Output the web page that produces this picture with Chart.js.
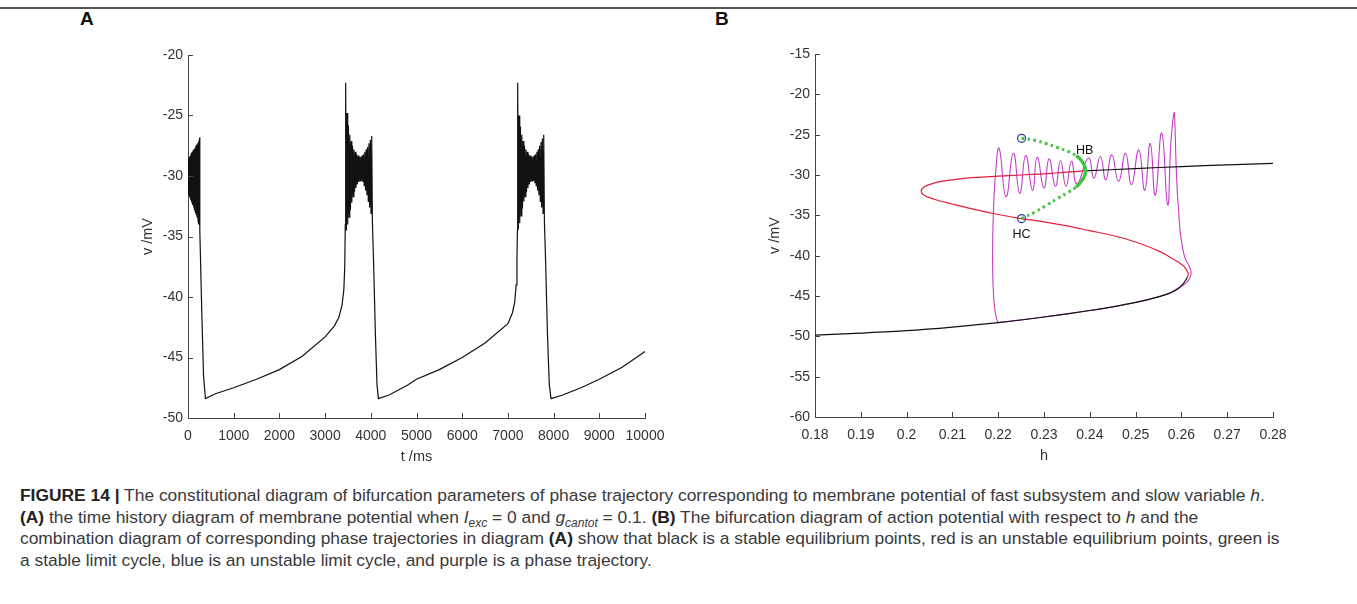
<!DOCTYPE html>
<html>
<head>
<meta charset="utf-8">
<script src="https://cdn.jsdelivr.net/npm/chart.js@4.4.1/dist/chart.umd.min.js"></script>
<style>
  body { margin: 0; background: #fff; width: 1357px; height: 604px; overflow: hidden; position: relative; font-family: "Liberation Sans", Arial, sans-serif; }
  #topLine { position: absolute; left: 0; top: 7px; width: 1357px; height: 2px; background: #555; }
  .panel { position: absolute; font-weight: bold; font-size: 19px; color: #111; }
  canvas { position: absolute; top: 0; }
  #caption { position: absolute; left: 20px; top: 485px; font-family: "Liberation Sans", Arial, sans-serif; font-size: 17.4px; line-height: 21.6px; color: #3a3a3a; white-space: nowrap; }
  #caption b { color: #222; }
  #caption sub { font-size: 12px; line-height: 0; }
</style>
</head>
<body>
<div id="topLine"></div>
<div class="panel" style="left:80px;top:8px">A</div>
<div class="panel" style="left:715px;top:8px">B</div>
<canvas id="chartA" width="680" height="470" style="left:0"></canvas>
<canvas id="chartB" width="677" height="470" style="left:680px"></canvas>
<div id="caption">
<b>FIGURE 14 |</b> The constitutional diagram of bifurcation parameters of phase trajectory corresponding to membrane potential of fast subsystem and slow variable <i>h</i>.<br>
<b>(A)</b> the time history diagram of membrane potential when <i>I<sub>exc</sub></i> = 0 and <i>g<sub>cantot</sub></i> = 0.1. <b>(B)</b> The bifurcation diagram of action potential with respect to <i>h</i> and the<br>
combination diagram of corresponding phase trajectories in diagram <b>(A)</b> show that black is a stable equilibrium points, red is an unstable equilibrium points, green is<br>
a stable limit cycle, blue is an unstable limit cycle, and purple is a phase trajectory.
</div>
<script>
// ---- panel A : membrane potential v (mV) against time t (ms) ----
const tA = [
  // first burst
  0, 10, 20, 30, 40, 50, 60, 70, 80, 90, 100, 110, 120, 130, 140, 150, 160, 170, 180, 190, 200, 210, 220, 230, 240, 250, 255, 262,
  300, 340, 381,
  // slow rise
  600, 1000, 1500, 2000, 2500, 3000, 3200, 3300, 3370, 3410, 3430, 3442,
  // second burst
  3450, 3465, 3480, 3495, 3510, 3525, 3540, 3555, 3570, 3585, 3600, 3615, 3630, 3645, 3660, 3675, 3690, 3705, 3720, 3735,
  3750, 3765, 3780, 3795, 3810, 3825, 3840, 3855, 3870, 3885, 3900, 3915, 3930, 3945, 3960, 3975, 3990, 4005, 4020, 4035,
  4060, 4100, 4135, 4166,
  // slow rise
  4400, 4800, 5000, 5500, 6000, 6500, 7000, 7100, 7150, 7180, 7198, 7208,
  // third burst
  7214, 7229, 7244, 7259, 7274, 7289, 7304, 7319, 7334, 7349, 7364, 7379, 7394, 7409, 7424, 7439, 7454, 7469, 7484, 7499,
  7514, 7529, 7544, 7559, 7574, 7589, 7604, 7619, 7634, 7649, 7664, 7679, 7694, 7709, 7724, 7739, 7754, 7769, 7784, 7799,
  7825, 7865, 7905, 7943,
  // slow rise
  8200, 8600, 9000, 9500, 10000
];
const vA = [
  -30.0, -28.5, -31.6, -28.4, -31.8, -28.3, -32.0, -28.1, -32.2, -28.0, -32.4, -27.9, -32.6, -27.8, -32.8, -27.7, -33.0, -27.5, -33.2, -27.4, -33.4, -27.3, -33.7, -27.1, -34.0, -26.9, -26.8, -34.5,
  -41.0, -46.5, -48.4,
  -48.0, -47.5, -46.8, -46.0, -44.9, -43.3, -42.4, -41.7, -40.7, -39.4, -37.5, -34.0,
  -22.3, -34.5, -24.8, -34.0, -25.8, -33.4, -26.6, -32.8, -27.1, -32.2, -27.5, -31.7, -27.8, -31.3, -28.0, -31.0, -28.2, -30.7, -28.3, -30.5,
  -28.4, -30.4, -28.4, -30.4, -28.3, -30.5, -28.2, -30.8, -28.0, -31.2, -27.8, -31.6, -27.6, -32.1, -27.3, -32.6, -27.0, -33.1, -26.7, -33.8,
  -37.0, -43.0, -47.2, -48.4,
  -48.1, -47.3, -46.8, -46.0, -45.0, -43.8, -42.2, -41.3, -40.4, -39.0, -37.0, -34.5,
  -22.3, -34.4, -25.0, -33.9, -25.9, -33.3, -26.6, -32.7, -27.1, -32.1, -27.5, -31.7, -27.8, -31.3, -28.0, -31.0, -28.2, -30.7, -28.3, -30.5,
  -28.4, -30.4, -28.4, -30.4, -28.3, -30.6, -28.2, -30.8, -28.0, -31.2, -27.8, -31.6, -27.5, -32.1, -27.2, -32.6, -26.9, -33.1, -26.6, -33.8,
  -37.0, -43.0, -47.2, -48.4,
  -48.1, -47.5, -46.8, -45.8, -44.5
];
const tTicks = [0, 1000, 2000, 3000, 4000, 5000, 6000, 7000, 8000, 9000, 10000];
const vTicksA = [-50, -45, -40, -35, -30, -25, -20];

// ---- panel B : bifurcation diagram, v (mV) against h ----
// stable equilibria, lower branch (black)
const hLow = [0.18, 0.19, 0.20, 0.21, 0.22, 0.23, 0.24, 0.245, 0.25, 0.255, 0.2572, 0.2593, 0.2605, 0.2613];
const vLow = [-49.85, -49.6, -49.3, -48.85, -48.3, -47.6, -46.8, -46.35, -45.8, -45.1, -44.7, -44.1, -43.4, -42.7];
// stable equilibria, upper branch from HB (black)
const hUp = [0.2387, 0.25, 0.26, 0.27, 0.28];
const vUp = [-29.5, -29.2, -28.95, -28.75, -28.55];
// unstable equilibria (red)
const hRed = [0.2613, 0.2615, 0.2605, 0.2593, 0.257, 0.255, 0.25, 0.245, 0.24, 0.235, 0.23, 0.225, 0.22, 0.215, 0.21, 0.206, 0.2038, 0.2032,
  0.2038, 0.206, 0.21, 0.215, 0.22, 0.225, 0.23, 0.235, 0.2387];
const vRed = [-42.7, -42.2, -41.3, -40.8, -40.0, -39.4, -38.3, -37.5, -36.9, -36.3, -35.8, -35.4, -34.9, -34.3, -33.6, -33.0, -32.5, -32.0,
  -31.5, -31.0, -30.6, -30.3, -30.15, -30.0, -29.85, -29.65, -29.5];
// stable limit cycle (green), HC to HB to HC
const hGreen = [0.2251, 0.228, 0.2304, 0.233, 0.2354, 0.237, 0.238, 0.2387, 0.2391, 0.2387, 0.238, 0.237, 0.2354, 0.233, 0.2304, 0.228, 0.2251];
const vGreen = [-25.45, -25.7, -26.1, -26.6, -27.1, -27.6, -28.1, -28.7, -29.5, -30.3, -30.9, -31.5, -32.1, -32.9, -33.8, -34.6, -35.4];
// homoclinic points (blue circles)
const hHC = [0.2251, 0.2251];
const vHC = [-25.45, -35.4];
// phase trajectory (purple)
const hTraj = [0.2199, 0.23, 0.24, 0.25, 0.2572, 0.2593, 0.2608, 0.2617, 0.2621, 0.2617, 0.2608, 0.2601, 0.2597, 0.2594, 0.2591, 0.2588, 0.2586, 0.2584,
  0.2577, 0.257, 0.2557, 0.2543, 0.2532, 0.252, 0.2507, 0.2491, 0.2478, 0.2463, 0.2448, 0.2435, 0.2423, 0.2409, 0.2397, 0.2372, 0.236,
  0.2348, 0.2336, 0.2325, 0.2311, 0.23, 0.2285, 0.2275, 0.226, 0.2247, 0.2233, 0.2217, 0.2202,
  0.2194, 0.219, 0.2188, 0.2188, 0.219, 0.2194, 0.2199];
const vTraj = [-48.3, -47.6, -46.8, -45.8, -44.7, -44.0, -43.5, -42.9, -42.2, -41.3, -40.3, -38.5, -36.8, -34.5, -32.0, -28.0, -24.0, -22.3,
  -26.0, -33.7, -24.8, -32.5, -26.1, -31.9, -26.9, -31.2, -27.3, -30.8, -27.5, -30.6, -27.7, -30.4, -27.9, -31.1, -28.3,
  -31.4, -28.2, -31.4, -28.0, -31.6, -27.8, -31.9, -27.6, -32.3, -27.3, -32.7, -26.7,
  -30.0, -34.0, -38.0, -42.0, -45.0, -47.2, -48.3];
const hTicks = [0.18, 0.19, 0.2, 0.21, 0.22, 0.23, 0.24, 0.25, 0.26, 0.27, 0.28];
const vTicksB = [-60, -55, -50, -45, -40, -35, -30, -25, -20, -15];
const notes = [
  { text: "HB", h: 0.2389, v: -27.0 },
  { text: "HC", h: 0.2251, v: -37.4 }
];

const pts = (xs, ys) => xs.map((x, i) => ({ x: x, y: ys[i] }));

const tickFont = { family: "Liberation Sans", size: 14 };
const titleFont = { family: "Liberation Sans", size: 14.5 };
const axisColor = "#444";

// MATLAB style ticks pointing into the plot
const inwardTicks = {
  id: "inwardTicks",
  afterDraw(chart) {
    const { ctx, chartArea, scales } = chart;
    ctx.save();
    ctx.strokeStyle = axisColor;
    ctx.lineWidth = 1;
    scales.x.ticks.forEach((t) => {
      const p = Math.round(scales.x.getPixelForValue(t.value)) + 0.5;
      ctx.beginPath();
      ctx.moveTo(p, chartArea.bottom);
      ctx.lineTo(p, chartArea.bottom - 5);
      ctx.stroke();
    });
    scales.y.ticks.forEach((t) => {
      const p = Math.round(scales.y.getPixelForValue(t.value)) + 0.5;
      ctx.beginPath();
      ctx.moveTo(chartArea.left, p);
      ctx.lineTo(chartArea.left + 5, p);
      ctx.stroke();
    });
    ctx.restore();
  },
};

const noteLabels = {
  id: "noteLabels",
  afterDatasetsDraw(chart) {
    if (chart.canvas.id !== "chartB") return;
    const { ctx, scales } = chart;
    ctx.save();
    ctx.fillStyle = "#111";
    ctx.font = "12.5px 'Liberation Sans'";
    ctx.textAlign = "center";
    ctx.textBaseline = "middle";
    notes.forEach((n) => ctx.fillText(n.text, scales.x.getPixelForValue(n.h), scales.y.getPixelForValue(n.v)));
    ctx.restore();
  },
};

const makeScales = (xMin, xMax, xTicks, xTitle, yMin, yMax, yTicks, fmtX) => ({
  x: {
    type: "linear",
    min: xMin,
    max: xMax,
    afterBuildTicks: (s) => { s.ticks = xTicks.map((v) => ({ value: v })); },
    afterFit: (s) => { s.height = 48; },
    grid: { display: false, drawTicks: false },
    border: { display: true, color: axisColor, width: 1 },
    ticks: { color: "#333", font: tickFont, padding: 10, maxRotation: 0, autoSkip: false, callback: fmtX },
    title: { display: true, text: xTitle, color: "#333", font: titleFont, padding: { top: 0, bottom: 0 } },
  },
  y: {
    type: "linear",
    min: yMin,
    max: yMax,
    afterBuildTicks: (s) => { s.ticks = yTicks.map((v) => ({ value: v })); },
    afterFit: (s) => { s.width = 50; },
    grid: { display: false, drawTicks: false },
    border: { display: true, color: axisColor, width: 1 },
    ticks: { color: "#333", font: tickFont, padding: 5, autoSkip: false, callback: (v) => String(v) },
    title: { display: true, text: "v /mV", color: "#333", font: titleFont, padding: { top: 1, bottom: 0 } },
  },
});

const baseOptions = (padding, scales) => ({
  responsive: false,
  devicePixelRatio: 1,
  animation: false,
  layout: { padding: padding },
  plugins: { legend: { display: false }, tooltip: { enabled: false } },
  scales: scales,
});

new Chart(document.getElementById("chartA"), {
  type: "scatter",
  data: {
    datasets: [{
      data: pts(tA, vA),
      showLine: true,
      borderColor: "#111",
      borderWidth: 1.2,
      pointRadius: 0,
      tension: 0,
    }],
  },
  options: baseOptions({ left: 138, right: 35, top: 55, bottom: 4 },
    makeScales(0, 10000, tTicks, "t /ms", -50, -20, vTicksA, (v) => String(v))),
  plugins: [inwardTicks],
});

new Chart(document.getElementById("chartB"), {
  type: "scatter",
  data: {
    datasets: [
      { data: pts(hHC, vHC), showLine: false, pointRadius: 4, pointBorderColor: "#2a3a9a", pointBorderWidth: 1.2, pointBackgroundColor: "rgba(0,0,0,0)" },
      { data: pts(hGreen.slice(5, 12), vGreen.slice(5, 12)), showLine: true, borderColor: "#3dc43d", borderWidth: 3.2, pointRadius: 0, tension: 0.4 },
      { data: pts(hGreen, vGreen), showLine: true, borderColor: "#3dc43d", borderWidth: 3, borderDash: [2.5, 3.5], pointRadius: 0, tension: 0.4 },
      { data: pts(hLow, vLow), showLine: true, borderColor: "#111", borderWidth: 1.2, pointRadius: 0, tension: 0.3 },
      { data: pts(hUp, vUp), showLine: true, borderColor: "#111", borderWidth: 1.2, pointRadius: 0, tension: 0.3 },
      { data: pts(hRed, vRed), showLine: true, borderColor: "#e0203a", borderWidth: 1.2, pointRadius: 0, tension: 0.35 },
      { data: pts(hTraj, vTraj), showLine: true, borderColor: "#c43cc8", borderWidth: 1.1, pointRadius: 0, tension: 0.5 },
    ],
  },
  options: baseOptions({ left: 85, right: 84, top: 54, bottom: 5 },
    makeScales(0.18, 0.28, hTicks, "h", -60, -15, vTicksB, (v) => String(+v.toFixed(2)))),
  plugins: [inwardTicks, noteLabels],
});
</script>
</body>
</html>
